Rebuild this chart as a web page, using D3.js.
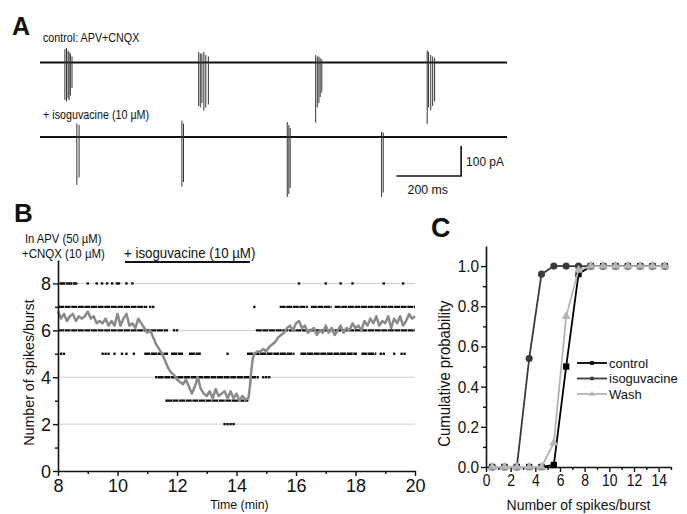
<!DOCTYPE html>
<html>
<head>
<meta charset="utf-8">
<script src="https://cdn.jsdelivr.net/npm/d3@7"></script>
<style>
  body { margin: 0; background: #fff; }
  svg text { font-family: "Liberation Sans", Arial, Helvetica, sans-serif; fill: #111; }
</style>
</head>
<body>
<div id="container"></div>
<script>
// ---------- data ----------
// panel A: spikes as [time (ms), lowest (pA), highest (pA)]
const controlSpikes = [
  [77, -125, 45], [82, -130, 48], [87, -120, 40], [90, -125, 35], [94, -110, 30], [99, -85, 20],
  [491, -145, 35], [496, -150, 30], [501, -135, 30], [507, -160, 35], [513, -150, 25], [521, -140, 20],
  [853, -200, 25], [858, -150, 20], [863, -135, 20], [867, -115, 15], [872, -100, 10],
  [1198, -205, 40], [1202, -150, 35], [1209, -160, 25], [1215, -145, 20], [1221, -130, 15]
];
const isoSpikes = [
  [114, -160, 45], [121, -135, 40],
  [439, -165, 55], [444, -150, 45],
  [765, -200, 50], [770, -190, 40], [774, -170, 30],
  [1057, -200, 17], [1062, -185, 15]
];

// panel B: spikes per burst over time
const gridLevels = [2, 4, 6, 8];
// dense runs of burst dots: [level, from (min), to (min)]
const burstRuns = [
  [8, 8.05, 8.65],
  [7, 8.0, 11.0], [7, 15.45, 16.4], [7, 16.5, 17.2], [7, 17.3, 20.0],
  [6, 8.0, 11.7], [6, 14.65, 20.0],
  [5, 10.9, 11.7], [5, 11.8, 12.2], [5, 12.4, 12.8], [5, 14.35, 15.95], [5, 16.15, 18.05], [5, 18.2, 18.7],
  [4, 11.35, 14.75],
  [3, 11.85, 14.4]
];
// single burst dots: [level, time]
const burstDots = [
  [8, 9.0], [8, 9.3], [8, 9.48], [8, 9.65], [8, 9.82], [8, 9.98], [8, 10.05], [8, 10.3], [8, 10.5],
  [8, 16.1], [8, 17.0], [8, 17.5], [8, 17.9], [8, 18.95], [8, 19.6],
  [7, 11.1], [7, 11.2], [7, 14.6],
  [6, 11.9], [6, 12.0],
  [5, 8.1], [5, 8.2], [5, 9.5], [5, 9.6], [5, 9.7], [5, 9.9], [5, 10.15], [5, 10.3], [5, 10.55],
  [5, 13.7], [5, 18.85], [5, 18.95], [5, 19.3], [5, 19.55], [5, 19.65],
  [4, 11.3], [4, 14.9], [4, 15.0], [4, 15.1],
  [3, 11.65], [3, 11.72], [3, 11.8],
  [2, 13.6], [2, 13.7], [2, 13.8], [2, 13.9]
];
// running average (time, spikes/burst)
const avgTime = [
  8.0, 8.1, 8.2, 8.3, 8.4, 8.5, 8.6, 8.7, 8.8, 8.9, 9.0, 9.1, 9.2, 9.3, 9.4, 9.5, 9.6, 9.7, 9.8, 9.9,
  10.0, 10.1, 10.2, 10.3, 10.4, 10.5, 10.6, 10.7, 10.8, 10.9, 11.0, 11.1, 11.2, 11.3, 11.4, 11.5, 11.6, 11.7, 11.8, 11.9,
  12.0, 12.1, 12.2, 12.3, 12.4, 12.5, 12.6, 12.7, 12.8, 12.9, 13.0, 13.1, 13.2, 13.3, 13.4, 13.5, 13.6, 13.7, 13.8, 13.9,
  14.0, 14.1, 14.2, 14.3, 14.4, 14.45, 14.5, 14.55, 14.6, 14.7, 14.8, 14.9, 15.0, 15.1, 15.2, 15.3, 15.4, 15.5, 15.6, 15.7, 15.8, 15.9,
  16.0, 16.1, 16.2, 16.3, 16.4, 16.5, 16.6, 16.7, 16.8, 16.9, 17.0, 17.1, 17.2, 17.3, 17.4, 17.5, 17.6, 17.7, 17.8, 17.9,
  18.0, 18.1, 18.2, 18.3, 18.4, 18.5, 18.6, 18.7, 18.8, 18.9, 19.0, 19.1, 19.2, 19.3, 19.4, 19.5, 19.6, 19.7, 19.8, 19.9, 20.0
];
const avgValue = [
  6.8, 6.5, 6.7, 6.4, 6.6, 6.7, 6.4, 6.6, 6.5, 6.6, 6.8, 6.5, 6.6, 6.3, 6.4, 6.3, 6.5, 6.2, 6.4, 6.2,
  6.7, 6.2, 6.5, 6.7, 6.2, 6.3, 6.1, 6.5, 6.3, 6.1, 5.9, 6.0, 5.7, 5.4, 5.2, 5.0, 4.7, 4.4, 4.2, 4.1,
  3.9, 3.8, 3.7, 3.9, 3.6, 3.3, 3.6, 4.0, 3.5, 3.3, 3.2, 3.4, 3.1, 3.5, 3.2, 3.3, 3.4, 3.1, 3.4, 3.1,
  3.3, 3.0, 3.2, 3.05, 3.1, 3.6, 4.3, 4.8, 5.0, 5.1, 5.1, 5.2, 5.1, 5.3, 5.4, 5.5, 5.7, 5.8, 5.9, 6.1, 6.2, 6.0,
  6.3, 6.4, 6.1, 6.2, 5.9, 6.0, 6.1, 5.8, 6.0, 5.9, 6.2, 5.9, 6.1, 5.8, 6.0, 6.2, 5.9, 6.1, 6.0, 6.3,
  6.1, 6.2, 6.0, 6.4, 6.2, 6.5, 6.3, 6.6, 6.2, 6.4, 6.3, 6.6, 6.1, 6.5, 6.3, 6.6, 6.2, 6.4, 6.7, 6.5, 6.6
];

// panel C: cumulative probability
const binCenters = [0.5, 1.5, 2.5, 3.5, 4.5, 5.5, 6.5, 7.5, 8.5, 9.5, 10.5, 11.5, 12.5, 13.5, 14.5];
const controlCum = [0, 0, 0, 0, 0, 0.01, 0.5, 0.96, 1, 1, 1, 1, 1, 1, 1];
const isoCum     = [0, 0, 0, 0.54, 0.96, 1, 1, 1, 1, 1, 1, 1, 1, 1, 1];
const washCum    = [0, 0, 0, 0, 0, 0.12, 0.75, 0.98, 1, 1, 1, 1, 1, 1, 1];
const seriesNames = ["control", "isoguvacine", "Wash"];

// ---------- drawing ----------
const w = 687, h = 514;
const viz = d3.select("#container").append("svg")
  .attr("width", w).attr("height", h)
  .style("background-color", "#fff");

// text helper: condensed look via horizontal scaling
function label(x, y, str, size, opts = {}) {
  const sx = opts.sx || 0.88;
  const rot = opts.rotate ? ` rotate(${opts.rotate})` : "";
  return viz.append("text")
    .attr("transform", `translate(${x},${y})${rot} scale(${sx},1)`)
    .attr("text-anchor", opts.anchor || "start")
    .style("font-size", size + "px")
    .style("font-weight", opts.bold ? "bold" : null)
    .text(str);
}

// panel letters
label(12, 35, "A", 25, { bold: true, sx: 1 });
label(14, 222, "B", 26, { bold: true, sx: 1 });
label(431, 237, "C", 27, { bold: true, sx: 1 });

// ===== A: traces =====
const tA = d3.scaleLinear().domain([0, 1445]).range([40, 507]);
const yTopA = d3.scaleLinear().domain([0, 100]).range([62.5, 32.5]);
const yBotA = d3.scaleLinear().domain([0, 100]).range([137, 107]);

function drawTrace(spikes, yS) {
  const g = viz.append("g");
  g.append("line")
    .attr("x1", tA(0)).attr("x2", tA(1445))
    .attr("y1", yS(0)).attr("y2", yS(0))
    .attr("stroke", "#111").attr("stroke-width", 2.2);
  g.selectAll("line.spike").data(spikes).enter().append("line")
    .attr("class", "spike")
    .attr("x1", d => tA(d[0])).attr("x2", d => tA(d[0]))
    .attr("y1", d => yS(d[1])).attr("y2", d => yS(d[2]))
    .attr("stroke", "#333").attr("stroke-width", 1);
}
drawTrace(controlSpikes, yTopA);
drawTrace(isoSpikes, yBotA);

label(43, 42, "control: APV+CNQX", 12.5, { sx: 0.86 });
label(43, 119, "+ isoguvacine (10 µM)", 12.5, { sx: 0.86 });

// scale bar: 200 ms, 100 pA
viz.append("path")
  .attr("d", `M${tA(1103)},${yBotA(-130)}H${tA(1303)}V${yBotA(-30)}`)
  .attr("fill", "none").attr("stroke", "#111").attr("stroke-width", 1.6);
label(tA(1303) + 5, yBotA(-80) + 5, "100 pA", 13, { sx: 0.92 });
label(tA(1203) - 1, 194, "200 ms", 13, { anchor: "middle", sx: 0.95 });

// ===== B: spikes/burst over time =====
const xB = d3.scaleLinear().domain([8, 20]).range([58, 415]);
const yB = d3.scaleLinear().domain([0, 9]).range([471, 260]);

viz.append("g").selectAll("line").data(gridLevels).enter().append("line")
  .attr("x1", xB(8)).attr("x2", xB(20))
  .attr("y1", d => yB(d)).attr("y2", d => yB(d))
  .attr("stroke", "#cfcfcf").attr("stroke-width", 1);

viz.append("g").selectAll("line").data(burstRuns).enter().append("line")
  .attr("x1", d => xB(d[1])).attr("x2", d => xB(d[2]))
  .attr("y1", d => yB(d[0])).attr("y2", d => yB(d[0]))
  .attr("stroke", "#111").attr("stroke-width", 2.4)
  .attr("stroke-dasharray", "6 0.6");

viz.append("g").selectAll("rect").data(burstDots).enter().append("rect")
  .attr("x", d => xB(d[1]) - 1.2).attr("y", d => yB(d[0]) - 1.2)
  .attr("width", 2.4).attr("height", 2.4).attr("fill", "#111");

const avgLine = d3.line().x(d => xB(d[0])).y(d => yB(d[1]));
viz.append("path")
  .datum(avgTime.map((t, i) => [t, avgValue[i]]))
  .attr("d", avgLine)
  .attr("fill", "none").attr("stroke", "#8a8a8a").attr("stroke-width", 2.5)
  .attr("stroke-linejoin", "round");

function styleAxis(g, size, sx) {
  g.select(".domain").attr("stroke", "#111").attr("stroke-width", 1.6);
  g.selectAll(".tick line").attr("stroke", "#111").attr("stroke-width", 1.4);
  g.selectAll(".tick text")
    .style("font-size", size + "px").attr("fill", "#111")
    .style("font-family", "Liberation Sans, Arial, sans-serif")
    .attr("transform", function () {
      const x = +this.getAttribute("x") || 0;
      return `translate(${x},0) scale(${sx},1)`;
    })
    .attr("x", 0);
}

const bx = viz.append("g").attr("transform", `translate(0,${yB(0)})`)
  .call(d3.axisBottom(xB).tickValues([8, 10, 12, 14, 16, 18, 20]).tickSize(5).tickSizeOuter(0).tickPadding(3).tickFormat(d3.format("d")));
styleAxis(bx, 19, 0.95);
const bxm = viz.append("g").attr("transform", `translate(0,${yB(0)})`)
  .call(d3.axisBottom(xB).tickValues([9, 11, 13, 15, 17, 19]).tickSize(3).tickFormat(""));
bxm.select(".domain").remove();
styleAxis(bxm, 10, 1);

const by = viz.append("g").attr("transform", `translate(${xB(8)},0)`)
  .call(d3.axisLeft(yB).tickValues([0, 2, 4, 6, 8]).tickSize(5).tickSizeOuter(0).tickPadding(2));
styleAxis(by, 19, 0.95);
const bym = viz.append("g").attr("transform", `translate(${xB(8)},0)`)
  .call(d3.axisLeft(yB).tickValues([1, 3, 5, 7]).tickSize(3).tickFormat(""));
bym.select(".domain").remove();
styleAxis(bym, 10, 1);

label(34, yB(4.2), "Number of spikes/burst", 15.5, { anchor: "middle", rotate: -90, sx: 0.92 });
label(xB(14.1), 509, "Time (min)", 13, { anchor: "middle", sx: 0.95 });

label(25, 243, "In APV (50 µM)", 12.5, { sx: 0.9 });
label(22, 258, "+CNQX (10 µM)", 12.5, { sx: 0.92 });
label(124, 258, "+ isoguvacine (10 µM)", 14, { sx: 0.95 });
viz.append("line")
  .attr("x1", xB(10.25)).attr("x2", xB(14.45)).attr("y1", 262).attr("y2", 262)
  .attr("stroke", "#111").attr("stroke-width", 2);

// ===== C: cumulative probability =====
const xC = d3.scaleLinear().domain([0, 15]).range([486, 671]);
const yC = d3.scaleLinear().domain([0, 1.1]).range([467, 246]);

const cx = viz.append("g").attr("transform", `translate(0,${yC(0)})`)
  .call(d3.axisBottom(xC).tickValues([0, 2, 4, 6, 8, 10, 12, 14]).tickSize(5).tickSizeOuter(0).tickPadding(2));
styleAxis(cx, 17, 0.82);
const cxm = viz.append("g").attr("transform", `translate(0,${yC(0)})`)
  .call(d3.axisBottom(xC).tickValues([1, 3, 5, 7, 9, 11, 13, 15]).tickSize(3).tickFormat(""));
cxm.select(".domain").remove();
styleAxis(cxm, 10, 1);

const cy = viz.append("g").attr("transform", `translate(${xC(0)},0)`)
  .call(d3.axisLeft(yC).tickValues([0, 0.2, 0.4, 0.6, 0.8, 1.0]).tickSize(5).tickSizeOuter(0).tickPadding(2).tickFormat(d3.format(".1f")));
styleAxis(cy, 17, 0.9);
const cym = viz.append("g").attr("transform", `translate(${xC(0)},0)`)
  .call(d3.axisLeft(yC).tickValues([0.1, 0.3, 0.5, 0.7, 0.9]).tickSize(3).tickFormat(""));
cym.select(".domain").remove();
styleAxis(cym, 10, 1);

label(450, yC(0.465), "Cumulative probability", 16, { anchor: "middle", rotate: -90, sx: 0.93 });
label(xC(7.5), 510, "Number of spikes/burst", 14, { anchor: "middle", sx: 1 });

const cumSeries = [
  { name: seriesNames[0], values: controlCum, color: "#000", symbol: d3.symbolSquare, size: 40 },
  { name: seriesNames[1], values: isoCum, color: "#3a3a3a", symbol: d3.symbolCircle, size: 40 },
  { name: seriesNames[2], values: washCum, color: "#b4b4b4", symbol: d3.symbolTriangle, size: 36 }
];
const cLine = d3.line().x(d => xC(d[0])).y(d => yC(d[1]));

cumSeries.forEach(s => {
  const pts = binCenters.map((b, i) => [b, s.values[i]]);
  viz.append("path").datum(pts).attr("d", cLine)
    .attr("fill", "none").attr("stroke", s.color).attr("stroke-width", 1.8);
  viz.append("g").selectAll("path").data(pts).enter().append("path")
    .attr("d", d3.symbol().type(s.symbol).size(s.size))
    .attr("transform", d => `translate(${xC(d[0])},${yC(d[1])})`)
    .attr("fill", s.color);
});

// legend
const legend = viz.append("g").attr("transform", "translate(577,363)");
cumSeries.forEach((s, i) => {
  const row = legend.append("g").attr("transform", `translate(0,${i * 15.5})`);
  row.append("line").attr("x1", 0).attr("x2", 30).attr("y1", 0).attr("y2", 0)
    .attr("stroke", s.color).attr("stroke-width", 1.8);
  row.append("path").attr("d", d3.symbol().type(s.symbol).size(14)).attr("transform", "translate(15,0)")
    .attr("fill", s.color);
  row.append("text").attr("x", 32).attr("y", 4.5).text(s.name).style("font-size", "13px");
});
</script>
</body>
</html>
